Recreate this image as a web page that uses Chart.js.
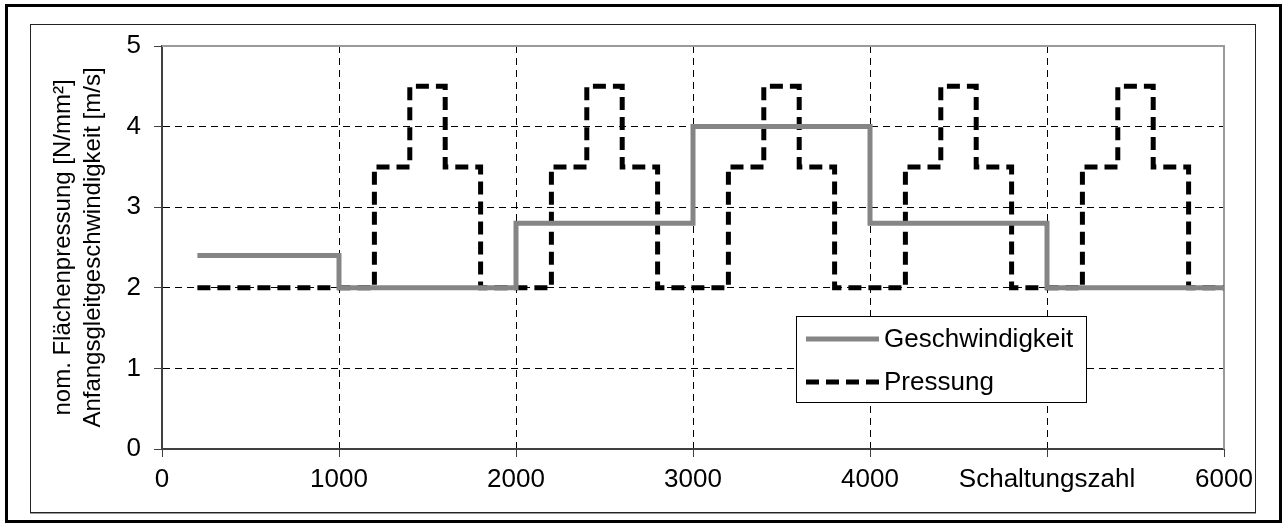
<!DOCTYPE html>
<html>
<head>
<meta charset="utf-8">
<title>Geschwindigkeit / Pressung</title>
<script src="https://cdn.jsdelivr.net/npm/chart.js@4/dist/chart.umd.min.js"></script>
<style>
    html, body { margin: 0; padding: 0; background: #fff; }
    .frame {
        position: absolute; left: 5px; top: 4px;
        width: 1271px; height: 513px;
        border: 3px solid #000;
    }
    .box {
        position: absolute; left: 30px; top: 24px;
        width: 1224px; height: 487px;
        border: 1px solid #222;
        box-shadow: 0 1px 0 #999;
    }
    .box canvas { display: block; }
</style>
</head>
<body>
<div class="frame"></div>
<div class="box"><canvas id="chart" width="1224" height="487"></canvas></div>
<script>
// Geschwindigkeit (stepped, value holds from this x to the next one)
const speedX = [200, 1000, 2000, 3000, 4000, 5000, 6000];
const speedY = [2.4, 2.0, 2.8, 4.0, 2.8, 2.0, 2.0];

// Pressung (stepped)
const pressX = [200, 1200, 1400, 1600, 1800,
                2200, 2400, 2600, 2800,
                3200, 3400, 3600, 3800,
                4200, 4400, 4600, 4800,
                5200, 5400, 5600, 5800, 6000];
const pressY = [2.0, 3.5, 4.5, 3.5, 2.0,
                3.5, 4.5, 3.5, 2.0,
                3.5, 4.5, 3.5, 2.0,
                3.5, 4.5, 3.5, 2.0,
                3.5, 4.5, 3.5, 2.0, 2.0];

const xTicks = [0, 1000, 2000, 3000, 4000, 5000, 6000];
const xTickLabels = ['0', '1000', '2000', '3000', '4000', 'Schaltungszahl', '6000'];
const yTitle = ['nom. Flächenpressung [N/mm²]', 'Anfangsgleitgeschwindigkeit [m/s]'];

const FONT = '"Liberation Sans", Arial, sans-serif';

const toPoints = (xs, ys) => xs.map((x, i) => ({ x: x, y: ys[i] }));

// light grey frame on top and right of the plot area
const plotFrame = {
    id: 'plotFrame',
    beforeDatasetsDraw(chart) {
        const { ctx, chartArea: a } = chart;
        ctx.save();
        ctx.strokeStyle = '#9a9a9a';
        ctx.lineWidth = 2;
        ctx.beginPath();
        ctx.moveTo(a.left, a.top);
        ctx.lineTo(a.right, a.top);
        ctx.lineTo(a.right, a.bottom);
        ctx.stroke();
        ctx.restore();
    }
};

// boxed legend inside the plot area
const boxLegend = {
    id: 'boxLegend',
    afterDraw(chart) {
        const { ctx } = chart;
        const x = 765, y = 291, w = 290, h = 86;
        ctx.save();
        ctx.fillStyle = '#fff';
        ctx.fillRect(x, y, w, h);
        ctx.strokeStyle = '#000';
        ctx.lineWidth = 1;
        ctx.strokeRect(x + 0.5, y + 0.5, w, h);
        chart.data.datasets.forEach((ds, i) => {
            const cy = y + 23 + i * 43;
            ctx.beginPath();
            ctx.strokeStyle = ds.borderColor;
            ctx.lineWidth = ds.borderWidth;
            ctx.setLineDash(ds.borderDash || []);
            ctx.moveTo(x + 10, cy);
            ctx.lineTo(x + 83, cy);
            ctx.stroke();
            ctx.setLineDash([]);
            ctx.fillStyle = '#000';
            ctx.font = '26px ' + FONT;
            ctx.textBaseline = 'middle';
            ctx.fillText(ds.label, x + 88, cy + 1);
        });
        ctx.restore();
    }
};

const hideEdge = (edgeValues) => (c) =>
    (c.tick && edgeValues.includes(c.tick.value)) ? 'rgba(0,0,0,0)' : '#000';

new Chart(document.getElementById('chart'), {
    type: 'line',
    data: {
        datasets: [{
            label: 'Geschwindigkeit',
            data: toPoints(speedX, speedY),
            borderColor: '#858585',
            borderWidth: 5,
            stepped: 'before',
            pointRadius: 0,
            fill: false
        }, {
            label: 'Pressung',
            data: toPoints(pressX, pressY),
            borderColor: '#000000',
            borderWidth: 5,
            borderDash: [13, 7],
            stepped: 'before',
            pointRadius: 0,
            fill: false
        }]
    },
    options: {
        responsive: false,
        animation: false,
        layout: { padding: { left: 0, top: 21, right: 31, bottom: 0 } },
        plugins: {
            legend: { display: false },
            tooltip: { enabled: false }
        },
        scales: {
            x: {
                type: 'linear',
                min: 0,
                max: 6000,
                afterBuildTicks: (scale) => { scale.ticks = xTicks.map(v => ({ value: v })); },
                afterFit: (scale) => {
                    scale.height = 63;
                    scale.paddingLeft = 0;
                    scale.paddingRight = 0;
                },
                ticks: {
                    color: '#000',
                    padding: 7,
                    maxRotation: 0,
                    autoSkip: false,
                    font: { family: FONT, size: 26 },
                    callback: (v) => xTickLabels[xTicks.indexOf(v)]
                },
                grid: {
                    color: hideEdge([0, 6000]),
                    lineWidth: 1,
                    tickLength: 8,
                    tickColor: '#404040'
                },
                border: { display: true, color: '#404040', width: 2, dash: [7, 5] }
            },
            y: {
                min: 0,
                max: 5,
                afterFit: (scale) => {
                    scale.width = 131;
                    scale.paddingTop = 0;
                    scale.paddingBottom = 0;
                },
                ticks: {
                    stepSize: 1,
                    color: '#000',
                    padding: 13,
                    font: { family: FONT, size: 26 }
                },
                grid: {
                    color: hideEdge([0, 5]),
                    lineWidth: 1,
                    tickLength: 8,
                    tickColor: '#404040'
                },
                border: { display: true, color: '#404040', width: 2, dash: [7, 5] },
                title: {
                    display: true,
                    text: yTitle,
                    color: '#000',
                    padding: { top: 17, bottom: 0 },
                    font: { family: FONT, size: 24, lineHeight: 1.25 }
                }
            }
        }
    },
    plugins: [plotFrame, boxLegend]
});
</script>
</body>
</html>
